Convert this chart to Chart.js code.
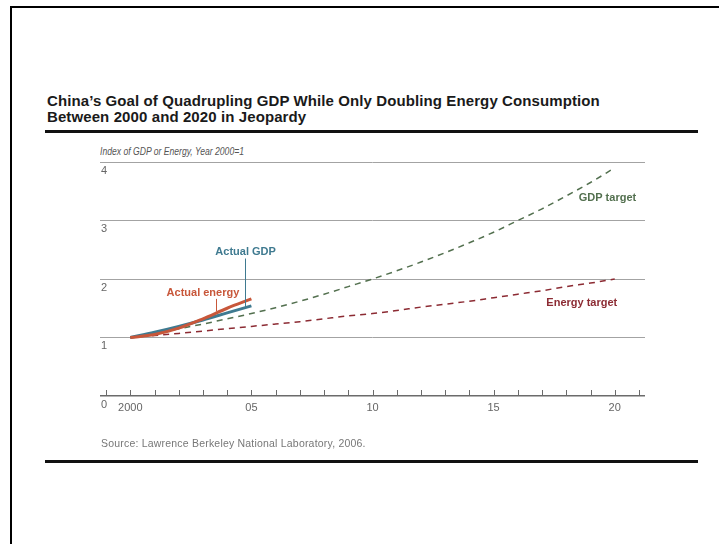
<!DOCTYPE html>
<html>
<head>
<meta charset="utf-8">
<script src="https://cdn.jsdelivr.net/npm/chart.js@4"></script>
<style>
  body { margin: 0; background: #fff; }
  #wrap { position: relative; width: 719px; height: 544px; overflow: hidden; font-family: "Liberation Sans", Arial, sans-serif; }
  #frame { position: absolute; left: 10px; top: 6px; right: -5px; bottom: -5px; border-left: 2px solid #000; border-top: 2px solid #000; }
  .rule { position: absolute; left: 45px; width: 653px; height: 3px; background: #111; }
  #title { position: absolute; left: 47px; top: 93px; font-weight: bold; font-size: 15px; line-height: 16px; letter-spacing: 0.1px; color: #1a1a1a; white-space: nowrap; }
  #ytitle { position: absolute; left: 100px; top: 146px; font-style: italic; font-size: 10px; color: #555; white-space: nowrap; transform: scaleX(0.86); transform-origin: left top; }
  #source { position: absolute; left: 101px; top: 437px; font-size: 10.5px; letter-spacing: 0.2px; color: #777; white-space: nowrap; }
  canvas { position: absolute; left: 0; top: 0; }
</style>
</head>
<body>
<div id="wrap">
  <div id="frame"></div>
  <div id="title">China’s Goal of Quadrupling GDP While Only Doubling Energy Consumption<br>Between 2000 and 2020 in Jeopardy</div>
  <div class="rule" style="top:130px"></div>
  <div id="ytitle">Index of GDP or Energy, Year 2000=1</div>
  <canvas id="myChart" width="719" height="544"></canvas>
  <div id="source">Source: Lawrence Berkeley National Laboratory, 2006.</div>
  <div class="rule" style="top:460px"></div>
</div>
<script>
// actual values, 2000-2005
const actualYears = [2000, 2001, 2002, 2003, 2004, 2005];
const actualGdp = [1.00, 1.09, 1.19, 1.30, 1.42, 1.54];
const actualEnergy = [1.00, 1.05, 1.16, 1.32, 1.50, 1.66];

// targets, 2000-2020
const targetYears = [2000, 2001, 2002, 2003, 2004, 2005, 2006, 2007, 2008, 2009, 2010,
  2011, 2012, 2013, 2014, 2015, 2016, 2017, 2018, 2019, 2020];
const gdpTarget = [1.00, 1.07, 1.15, 1.23, 1.32, 1.41, 1.51, 1.62, 1.74, 1.87, 2.00,
  2.14, 2.29, 2.45, 2.62, 2.80, 3.00, 3.20, 3.42, 3.65, 3.90];
const energyTarget = [1.00, 1.035, 1.07, 1.11, 1.15, 1.19, 1.23, 1.27, 1.32, 1.37, 1.41,
  1.46, 1.52, 1.57, 1.62, 1.68, 1.74, 1.80, 1.87, 1.93, 2.00];

const xLabelYears = [2000, 2005, 2010, 2015, 2020];
const xLabelTexts = ['2000', '05', '10', '15', '20'];
const yTicks = [0, 1, 2, 3, 4];

const seriesNames = ['Actual energy', 'Actual GDP', 'GDP target', 'Energy target'];
const colorEnergy = '#c8573a';
const colorGdp = '#3f7a90';
const colorGdpTarget = '#53704f';
const colorEnergyTarget = '#8c2b33';

function pairs(xs, ys) {
  return xs.map(function (x, i) { return { x: x, y: ys[i] }; });
}

// text notes drawn on the chart, anchored in data coordinates
const notes = [
  { text: 'Actual GDP', x: 2004.76, y: 2.47, color: colorGdp, lead: [2004.75, 2.35, 1.51] },
  { text: 'Actual energy', x: 2003.0, y: 1.76, color: colorEnergy, lead: [2003.55, 1.66, 1.45] },
  { text: 'GDP target', x: 2019.7, y: 3.39, color: colorGdpTarget },
  { text: 'Energy target', x: 2018.64, y: 1.59, color: colorEnergyTarget }
];

const extras = {
  id: 'extras',
  afterDatasetsDraw: function (chart) {
    const ctx = chart.ctx;
    const xs = chart.scales.x;
    const ys = chart.scales.y;
    const bottom = chart.chartArea.bottom;
    ctx.save();
    // small tick marks above the axis
    ctx.strokeStyle = '#6b6b6b';
    ctx.lineWidth = 1;
    xs.ticks.forEach(function (t) {
      const px = Math.round(xs.getPixelForValue(t.value)) + 0.5;
      ctx.beginPath();
      ctx.moveTo(px, bottom);
      ctx.lineTo(px, bottom - 6);
      ctx.stroke();
    });
    ctx.font = 'bold 11px "Liberation Sans", Arial, sans-serif';
    ctx.textAlign = 'center';
    ctx.textBaseline = 'middle';
    notes.forEach(function (n) {
      if (n.lead) {
        const lx = Math.round(xs.getPixelForValue(n.lead[0])) + 0.5;
        ctx.strokeStyle = n.color;
        ctx.beginPath();
        ctx.moveTo(lx, ys.getPixelForValue(n.lead[1]));
        ctx.lineTo(lx, ys.getPixelForValue(n.lead[2]));
        ctx.stroke();
      }
      ctx.fillStyle = n.color;
      ctx.fillText(n.text, xs.getPixelForValue(n.x), ys.getPixelForValue(n.y));
    });
    ctx.restore();
  }
};

var ctx1 = document.getElementById('myChart');
let myChart = new Chart(ctx1, {
  type: 'line',
  data: {
    datasets: [{
      label: seriesNames[0],
      data: pairs(actualYears, actualEnergy),
      borderColor: colorEnergy,
      borderWidth: 3,
      cubicInterpolationMode: 'monotone',
      pointRadius: 0
    }, {
      label: seriesNames[1],
      data: pairs(actualYears, actualGdp),
      borderColor: colorGdp,
      borderWidth: 3,
      cubicInterpolationMode: 'monotone',
      pointRadius: 0
    }, {
      label: seriesNames[2],
      data: pairs(targetYears, gdpTarget),
      borderColor: colorGdpTarget,
      borderWidth: 1.5,
      borderDash: [6, 5],
      cubicInterpolationMode: 'monotone',
      pointRadius: 0
    }, {
      label: seriesNames[3],
      data: pairs(targetYears, energyTarget),
      borderColor: colorEnergyTarget,
      borderWidth: 1.5,
      borderDash: [6, 5],
      cubicInterpolationMode: 'monotone',
      pointRadius: 0
    }]
  },
  options: {
    responsive: false,
    animation: false,
    devicePixelRatio: 1,
    layout: { padding: { left: 100, right: 74, top: 162, bottom: 128 } },
    plugins: { legend: { display: false }, tooltip: { enabled: false }, title: { display: false } },
    scales: {
      x: {
        type: 'linear',
        min: 1998.75,
        max: 2021.25,
        grid: { display: false, drawTicks: false },
        border: { display: false },
        afterFit: function (s) { s.height = 20; },
        ticks: {
          stepSize: 1,
          includeBounds: false,
          autoSkip: false,
          maxRotation: 0,
          padding: 5,
          color: '#666',
          font: { family: '"Liberation Sans", Arial, sans-serif', size: 11 },
          callback: function (v) {
            const i = xLabelYears.indexOf(v);
            return i >= 0 ? xLabelTexts[i] : '';
          }
        }
      },
      y: {
        min: 0,
        max: 4,
        afterBuildTicks: function (s) { s.ticks = yTicks.map(function (v) { return { value: v }; }); },
        afterFit: function (s) { s.width = 0; },
        border: { display: false },
        grid: {
          drawTicks: false,
          color: function (c) { return c.tick.value === 0 ? '#6b6b6b' : '#a3a3a3'; },
          lineWidth: function (c) { return c.tick.value === 0 ? 1.5 : 1; }
        },
        ticks: {
          mirror: true,
          padding: 1,
          labelOffset: 8.5,
          color: '#666',
          font: { family: '"Liberation Sans", Arial, sans-serif', size: 11 }
        }
      }
    }
  },
  plugins: [extras]
});
</script>
</body>
</html>
